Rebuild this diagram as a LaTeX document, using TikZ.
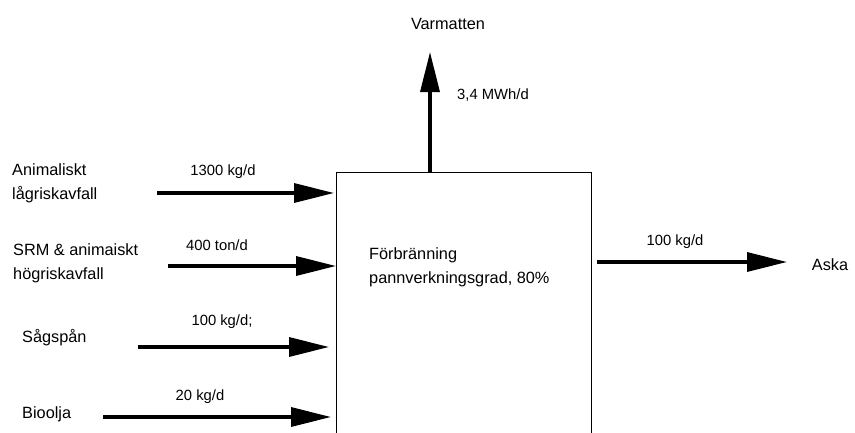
\documentclass[tikz,border=0pt]{standalone}
\usepackage{fontspec}
\setmainfont{Liberation Sans}
\usetikzlibrary{arrows.meta}
\begin{document}
\begin{tikzpicture}[x=1pt,y=-1pt,
  flow/.style={line width=3.3pt,-{Triangle[length=40pt,width=19pt]}},
  big/.style={font=\fontsize{16.3}{21}\selectfont,inner sep=0pt,align=left},
  small/.style={font=\fontsize{14.8}{17}\selectfont,inner sep=0pt}]
\useasboundingbox (0,0) rectangle (855,432);
\clip (0,0) rectangle (855,432);
\node[draw,line width=1pt,minimum width=255pt,minimum height=320pt,anchor=north west,inner sep=0pt] (box) at (336,172) {};
\node[big,anchor=west] (proc) at (369,267) {Förbränning\\[3pt]pannverkningsgrad, 80\%};
% inputs
\node[big,anchor=west] (in1) at (12,183) {Animaliskt\\[3pt]lågriskavfall};
\node[big,anchor=west] (in2) at (13,263) {SRM \& animaiskt\\[3pt]högriskavfall};
\node[big,anchor=west] (in3) at (22,338) {Sågspån};
\node[big,anchor=west] (in4) at (22,414) {Bioolja};
\coordinate (s1) at (157,193); \coordinate (e1) at (334,193);
\coordinate (s2) at (168,266); \coordinate (e2) at (336,266);
\coordinate (s3) at (138,347); \coordinate (e3) at (329,347);
\coordinate (s4) at (103,417); \coordinate (e4) at (331,417);
\draw[flow] (s1) -- (e1);
\draw[flow] (s2) -- (e2);
\draw[flow] (s3) -- (e3);
\draw[flow] (s4) -- (e4);
\node[small] (l1) at (223,172) {1300 kg/d};
\node[small] (l2) at (217,245) {400 ton/d};
\node[small] (l3) at (222,322) {100 kg/d;};
\node[small] (l4) at (200,397) {20 kg/d};
% output up
\coordinate (su) at (430,172); \coordinate (eu) at (430,52);
\draw[flow] (su) -- (eu);
\node[big] (out1) at (448,24) {Varmatten};
\node[small,anchor=west] (lu) at (457,95) {3,4 MWh/d};
% output right
\coordinate (sa) at (597,262); \coordinate (ea) at (787,262);
\draw[flow] (sa) -- (ea);
\node[small] (la) at (675,242) {100 kg/d};
\node[big] (out2) at (830,265) {Aska};
\end{tikzpicture}
\end{document}
